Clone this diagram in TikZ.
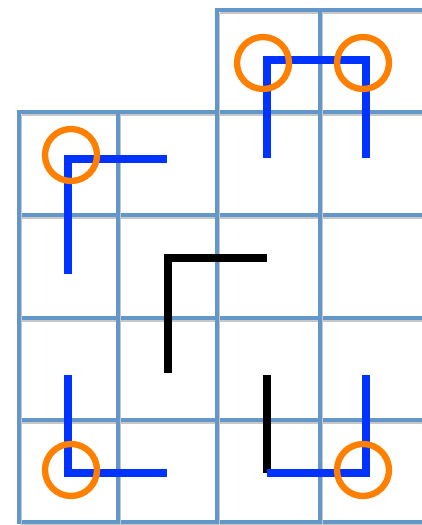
\documentclass[tikz,border=0pt]{standalone}
\usepackage{tikz}
\usepackage{xcolor}
\definecolor{gridblue}{HTML}{6497C9}
\definecolor{loopblue}{HTML}{0033FF}
\definecolor{ringorange}{HTML}{FF7F00}

\begin{document}
\begin{tikzpicture}[x=.1mm,y=-.1mm,
gridline/.style={gridblue,line width=1.25pt,line cap=rect,
  preaction={draw=black!22,transform canvas={shift={(.25mm,-.3mm)}}}},
loopline/.style={loopblue,line width=2.55pt,line join=miter},
openline/.style={black,line width=2.55pt,line join=miter},
ring/.style={ringorange,line width=1.8pt}]
\useasboundingbox (0,0) rectangle (421,525);
% grid
\foreach \y in {112,215,318,420,522}{\draw[gridline] (19,\y)--(421,\y);}
\draw[gridline] (217,10)--(421,10);
\foreach \x in {19,118}{\draw[gridline] (\x,112)--(\x,522);}
\foreach \x in {217,320}{\draw[gridline] (\x,10)--(\x,522);}
% loops
\draw[loopline] (267,158)--(267,60)--(366,60)--(366,158);
\draw[loopline] (68,274)--(68,159)--(167,159);
\draw[loopline] (68,375)--(68,473)--(167,473);
\draw[openline] (267,258)--(168,258)--(168,373);
\draw[openline] (267,375)--(267,473);
\draw[loopline] (267,473)--(366,473)--(366,375);
% rings
\foreach \p in {(263,63),(363,63),(71,155),(71,470),(363,470)}
\draw[ring] \p circle (2.6mm);
\end{tikzpicture}
\end{document}
